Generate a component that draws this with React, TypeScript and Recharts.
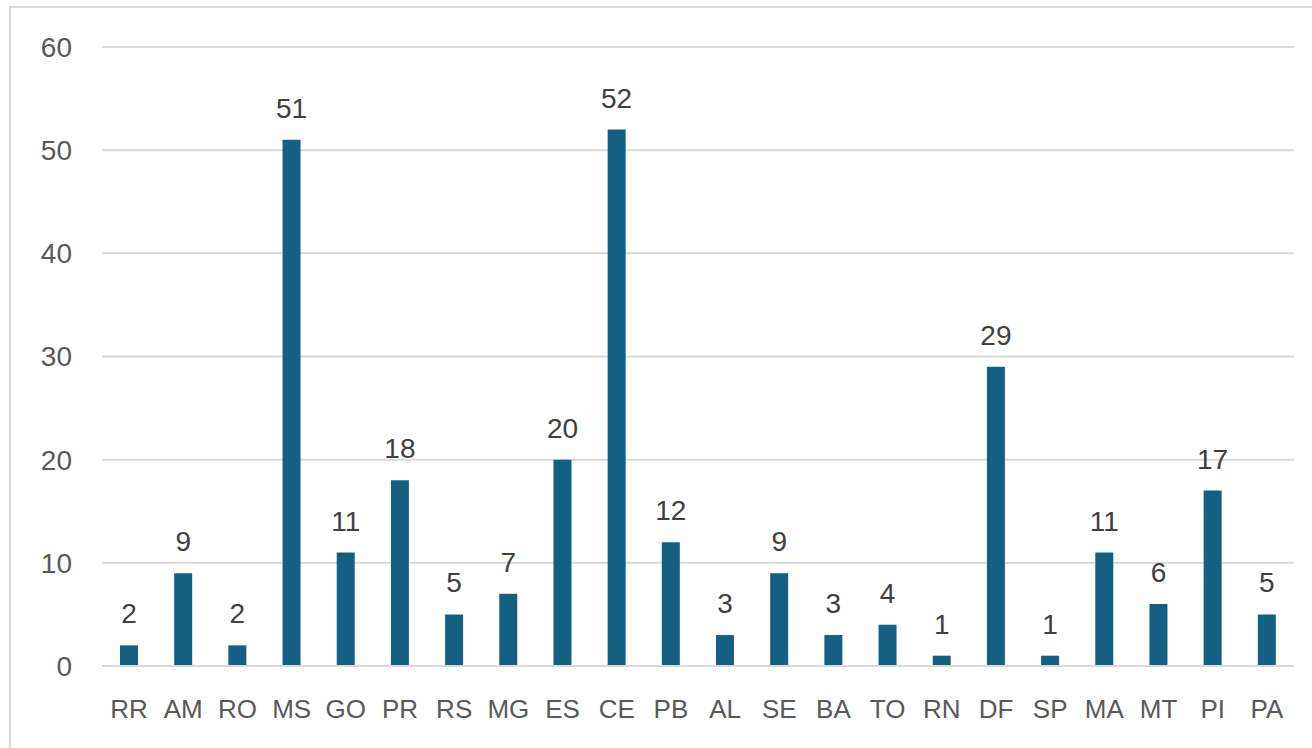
import { Bar, BarChart, CartesianGrid, LabelList, XAxis, YAxis } from "recharts"

const states = ["RR", "AM", "RO", "MS", "GO", "PR", "RS", "MG", "ES", "CE", "PB", "AL", "SE", "BA", "TO", "RN", "DF", "SP", "MA", "MT", "PI", "PA"]
const counts = [2, 9, 2, 51, 11, 18, 5, 7, 20, 52, 12, 3, 9, 3, 4, 1, 29, 1, 11, 6, 17, 5]
const yTicks = [0, 10, 20, 30, 40, 50, 60]

const data = states.map((state, i) => ({ state, count: counts[i] }))

const font = "'Liberation Sans', Arial, sans-serif"

export default function App() {
  return (
    <div style={{ position: "absolute", left: 0, top: 0, width: 1312, height: 748, overflow: "hidden", background: "#fff" }}>
      <div
        style={{
          position: "absolute",
          left: 9,
          top: 6,
          width: 1400,
          height: 800,
          border: "2px solid #d9d9d9",
        }}
      />
      <div style={{ position: "absolute", left: 0, top: 0 }}>
        <BarChart width={1312} height={748} data={data} margin={{ top: 47, right: 18, bottom: 22, left: 0 }}>
          <CartesianGrid vertical={false} stroke="#d9d9d9" strokeWidth={2} />
          <XAxis
            dataKey="state"
            height={60}
            tickLine={false}
            tickSize={0}
            tickMargin={34}
            axisLine={{ stroke: "#d9d9d9", strokeWidth: 2 }}
            interval={0}
            tick={{ fill: "#595959", fontSize: 26, fontFamily: font }}
          />
          <YAxis
            width={102}
            domain={[0, 60]}
            ticks={yTicks}
            tickLine={false}
            tickSize={0}
            tickMargin={30}
            axisLine={false}
            tick={{ fill: "#595959", fontSize: 28, fontFamily: font }}
          />
          <Bar dataKey="count" fill="#156082" barSize={18} isAnimationActive={false}>
            <LabelList
              dataKey="count"
              position="top"
              offset={22}
              style={{ fill: "#404040", fontSize: 28, fontFamily: font }}
            />
          </Bar>
        </BarChart>
      </div>
    </div>
  )
}
